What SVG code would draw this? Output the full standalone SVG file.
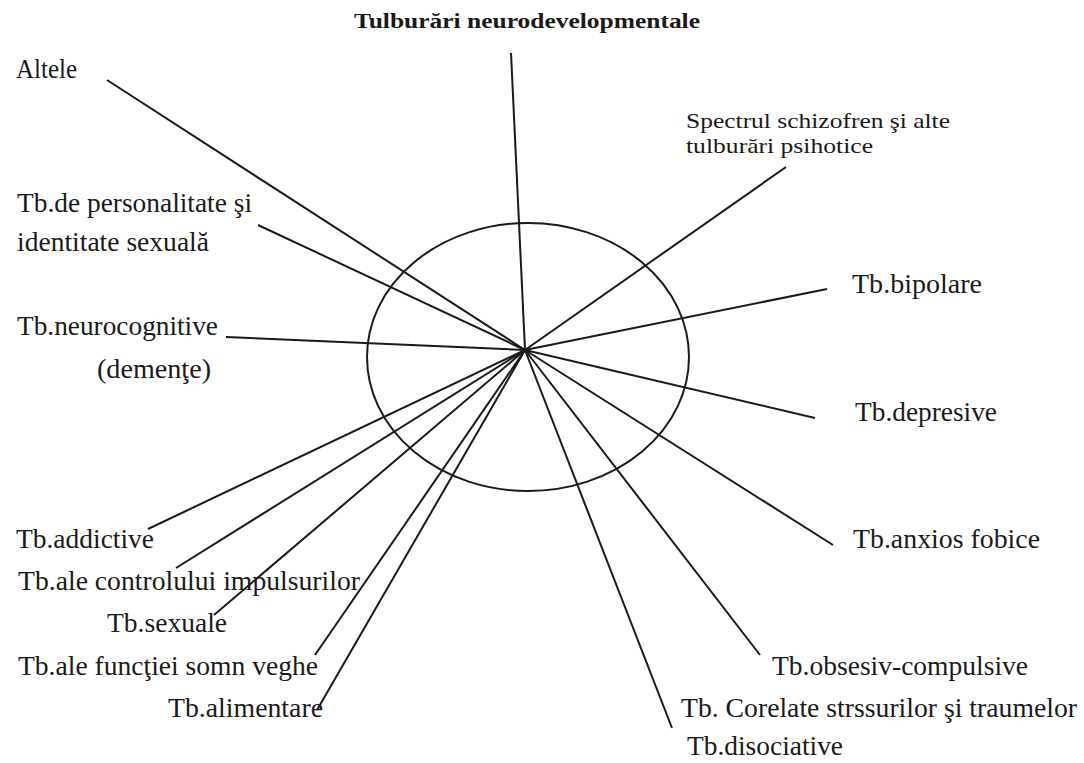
<svg xmlns="http://www.w3.org/2000/svg" width="1084" height="763" viewBox="0 0 1084 763">
<style>
.t{font-family:"Liberation Serif","Times New Roman",serif;font-size:27px;fill:#1a1a1a}
.s{font-family:"Liberation Serif","Times New Roman",serif;font-size:22px;fill:#1a1a1a}
.b{font-family:"Liberation Serif","Times New Roman",serif;font-size:22px;font-weight:bold;fill:#1a1a1a}
.c line{stroke:#1a1a1a;stroke-width:2}
.e{fill:none;stroke:#1a1a1a;stroke-width:2}
</style>
<rect width="1084" height="763" fill="#fff"/>
<g id="center"><ellipse class="e" cx="528" cy="357" rx="161" ry="134"/></g>
<g class="c" id="connectors">
<line x1="525" y1="350" x2="511" y2="53"/>
<line x1="525" y1="350" x2="107" y2="80"/>
<line x1="525" y1="350" x2="258" y2="225"/>
<line x1="525" y1="350" x2="786" y2="167"/>
<line x1="525" y1="350" x2="827" y2="289"/>
<line x1="525" y1="350" x2="226" y2="337"/>
<line x1="525" y1="350" x2="148" y2="529"/>
<line x1="525" y1="350" x2="176" y2="568"/>
<line x1="525" y1="350" x2="214" y2="615"/>
<line x1="525" y1="350" x2="315" y2="655"/>
<line x1="525" y1="350" x2="317" y2="710"/>
<line x1="525" y1="350" x2="815" y2="418"/>
<line x1="525" y1="350" x2="833" y2="545"/>
<line x1="525" y1="350" x2="760" y2="655"/>
<line x1="525" y1="350" x2="672" y2="728"/>
</g>
<g id="n-neuro"><text class="b" x="354" y="28" textLength="346" lengthAdjust="spacingAndGlyphs">Tulburări neurodevelopmentale</text></g>
<g id="n-altele"><text class="t" x="16" y="78" textLength="61" lengthAdjust="spacingAndGlyphs">Altele</text></g>
<g id="n-personalitate"><text class="t" x="17" y="212" textLength="235" lengthAdjust="spacingAndGlyphs">Tb.de personalitate şi</text><text class="t" x="17" y="251" textLength="192" lengthAdjust="spacingAndGlyphs">identitate sexuală</text></g>
<g id="n-spectrul"><text class="s" x="686" y="128" textLength="264" lengthAdjust="spacingAndGlyphs">Spectrul schizofren şi alte</text><text class="s" x="686" y="153" textLength="187" lengthAdjust="spacingAndGlyphs">tulburări psihotice</text></g>
<g id="n-bipolare"><text class="t" x="852" y="293" textLength="130" lengthAdjust="spacingAndGlyphs">Tb.bipolare</text></g>
<g id="n-neurocog"><text class="t" x="17" y="335" textLength="201" lengthAdjust="spacingAndGlyphs">Tb.neurocognitive</text><text class="t" x="97" y="378" textLength="114" lengthAdjust="spacingAndGlyphs">(demenţe)</text></g>
<g id="n-addictive"><text class="t" x="16" y="548" textLength="138" lengthAdjust="spacingAndGlyphs">Tb.addictive</text></g>
<g id="n-impuls"><text class="t" x="18" y="590" textLength="342" lengthAdjust="spacingAndGlyphs">Tb.ale controlului impulsurilor</text></g>
<g id="n-sexuale"><text class="t" x="107" y="632" textLength="120" lengthAdjust="spacingAndGlyphs">Tb.sexuale</text></g>
<g id="n-somn"><text class="t" x="18" y="675" textLength="300" lengthAdjust="spacingAndGlyphs">Tb.ale funcţiei somn veghe</text></g>
<g id="n-alimentare"><text class="t" x="168" y="717" textLength="155" lengthAdjust="spacingAndGlyphs">Tb.alimentare</text></g>
<g id="n-depresive"><text class="t" x="855" y="421" textLength="142" lengthAdjust="spacingAndGlyphs">Tb.depresive</text></g>
<g id="n-anxios"><text class="t" x="853" y="548" textLength="187" lengthAdjust="spacingAndGlyphs">Tb.anxios fobice</text></g>
<g id="n-obsesiv"><text class="t" x="772" y="675" textLength="256" lengthAdjust="spacingAndGlyphs">Tb.obsesiv-compulsive</text></g>
<g id="n-corelate"><text class="t" x="681" y="717" textLength="396" lengthAdjust="spacingAndGlyphs">Tb. Corelate strssurilor şi traumelor</text></g>
<g id="n-disociative"><text class="t" x="687" y="755" textLength="156" lengthAdjust="spacingAndGlyphs">Tb.disociative</text></g>
</svg>
